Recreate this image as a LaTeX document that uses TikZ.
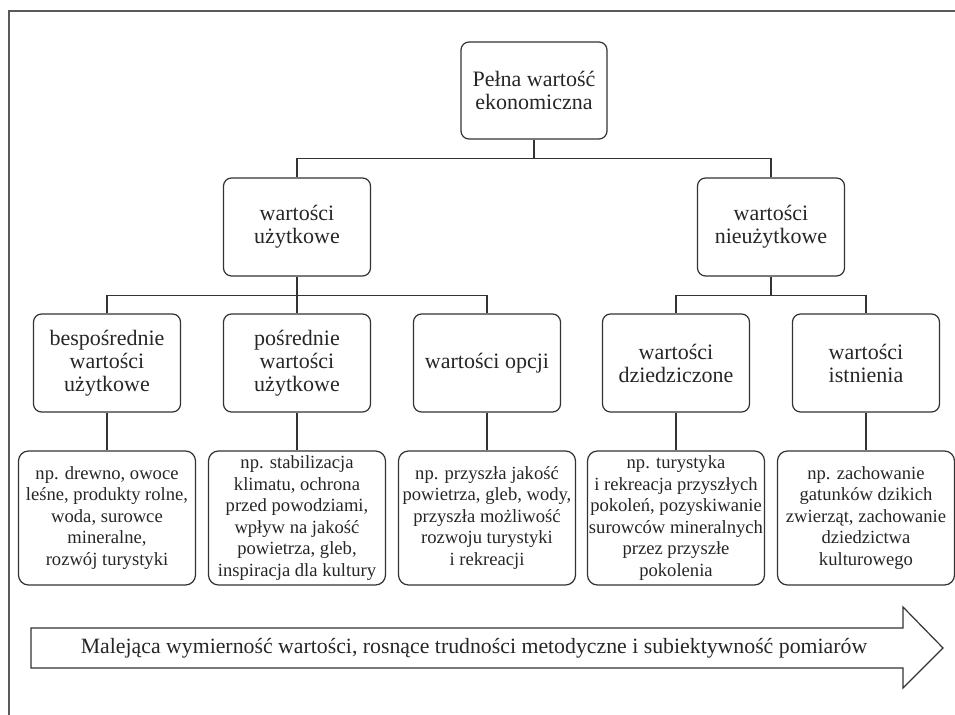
\documentclass[tikz,border=0pt]{standalone}
\usepackage{fontspec}
\setmainfont{Liberation Serif}
\usepackage{tikz}

\begin{document}
\begin{tikzpicture}[x=0.5pt,y=0.5pt]
\tikzstyle{every node}+=[inner sep=0pt, text=black!85]
\tikzstyle{valbox}=[draw=black!80, line width=0.6pt, rounded corners=4pt, minimum width=73.5pt, minimum height=49pt, align=center, font=\fontsize{11}{11.5}\selectfont]
\tikzstyle{exbox}=[draw=black!80, line width=0.6pt, rounded corners=5pt, minimum width=88.5pt, minimum height=67pt, align=center, font=\fontsize{9.3}{10.75}\selectfont]
\tikzstyle{link}=[black!80, line width=0.6pt]
\useasboundingbox (0,0) rectangle (955,-715);
\draw [gray!70!black, line width=1pt] (8,-11) -- (955,-11);
\draw [gray!70!black, line width=1pt] (9,-11) -- (9,-715);
\node [valbox, minimum width=73pt, minimum height=48.5pt] (pwe) at (534,-90.5) {Pełna wartość\\ekonomiczna};
\node [valbox] (uz) at (297,-227) {wartości\\użytkowe};
\node [valbox] (nuz) at (771,-227) {wartości\\nieużytkowe};
\node [valbox] (bwu) at (107,-363) {bespośrednie\\wartości\\użytkowe};
\node [valbox] (pwu) at (297,-363) {pośrednie\\wartości\\użytkowe};
\node [valbox] (wo) at (487,-363) {wartości opcji};
\node [valbox] (wd) at (676,-363) {wartości\\dziedziczone};
\node [valbox] (wi) at (866,-363) {wartości\\istnienia};
\node [exbox] (exbwu) at (107,-518) {np. drewno, owoce\\leśne, produkty rolne,\\woda, surowce\\mineralne,\\rozwój turystyki};
\node [exbox] (expwu) at (297,-518) {np. stabilizacja\\klimatu, ochrona\\przed powodziami,\\wpływ na jakość\\powietrza, gleb,\\inspiracja dla kultury};
\node [exbox] (exwo) at (487,-518) {np. przyszła jakość\\powietrza, gleb, wody,\\przyszła możliwość\\rozwoju turystyki\\i rekreacji};
\node [exbox] (exwd) at (676,-518) {np. turystyka\\i rekreacja przyszłych\\pokoleń, pozyskiwanie\\surowców mineralnych\\przez przyszłe\\pokolenia};
\node [exbox] (exwi) at (866,-518) {np. zachowanie\\gatunków dzikich\\zwierząt, zachowanie\\dziedzictwa\\kulturowego};
\foreach \n in {uz,nuz}
  \draw [link] (pwe.south) -- ++(0,-19) -| (\n.north);
\foreach \n in {bwu,pwu,wo}
  \draw [link] (uz.south) -- ++(0,-19) -| (\n.north);
\foreach \n in {wd,wi}
  \draw [link] (nuz.south) -- ++(0,-19) -| (\n.north);
\foreach \n in {bwu,pwu,wo,wd,wi}
  \draw [link] (\n) -- (ex\n);
\draw [link] (31,-628) -- (903,-628) -- (903,-607) -- (943,-648) -- (903,-688) -- (903,-668) -- (31,-668) -- cycle;
\node [font=\fontsize{10.9}{12}\selectfont] (trend) at (474,-648) {Malejąca wymierność wartości, rosnące trudności metodyczne i subiektywność pomiarów};
\end{tikzpicture}
\end{document}
